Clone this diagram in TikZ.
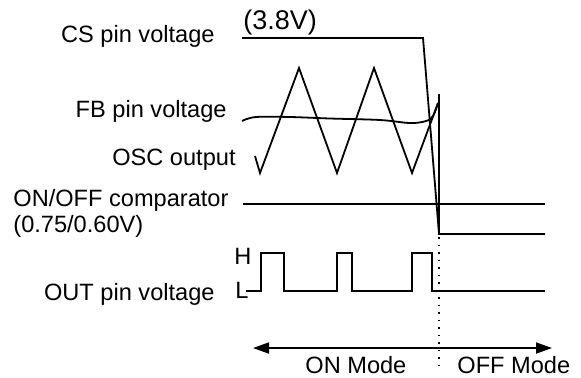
\documentclass[tikz,border=0pt]{standalone}
\usepackage{fontspec}
\setmainfont{Liberation Sans}
\usetikzlibrary{arrows.meta}

\begin{document}
\begin{tikzpicture}[x=0.5pt, y=-0.5pt,
    wave/.style={line width=0.9pt, line join=miter},
    lbl/.style={inner sep=0pt, font=\fontsize{11.8}{14}\selectfont},
    modearrow/.style={line width=0.9pt, {Triangle[length=8pt,width=5.5pt]}-{Triangle[length=8pt,width=5.5pt]}}]
        \useasboundingbox (0,0) rectangle (581,377);
        % signal names
        \node[lbl, anchor=base east] (cslbl) at (215,42) {CS pin voltage};
        \node[lbl, anchor=base east] (fblbl) at (227,117) {FB pin voltage};
        \node[lbl, anchor=base east] (osclbl) at (236,165) {OSC output};
        \node[lbl, anchor=base west] (cmplbl) at (13,206) {ON/OFF comparator};
        \node[lbl, anchor=base west] (thrlbl) at (13,232) {(0.75/0.60V)};
        \node[lbl, anchor=base east] (outlbl) at (215,300) {OUT pin voltage};
        \node[lbl, anchor=base west, font=\fontsize{13.5}{16}\selectfont] (cslvl) at (243,29) {(3.8V)};
        \node[lbl, anchor=base west] (hlvl) at (234,264) {H};
        \node[lbl, anchor=base west] (llvl) at (235,298) {L};
        % waveforms
        \draw[wave] (242,38) -- (423,38) -- (439,234) -- (545,234);
        \draw[wave] (243,204) -- (545,204);
        \draw[wave] plot[smooth, tension=0.6] coordinates {(242,121) (256,117) (290,117) (330,118.5) (380,120) (410,123) (426,121) (433,116) (438,103)};
        \draw[wave] (255,156) -- (260,173) -- (299,68) -- (337,173) -- (374,68) -- (412,173) -- (438,103);
        \draw[wave] (439,94) -- (439,234);
        \draw[wave] (246,291) -- (261,291) -- (261,253) -- (284,253) -- (284,291)
            -- (337,291) -- (337,253) -- (352,253) -- (352,291)
            -- (412,291) -- (412,253) -- (432,253) -- (432,291) -- (545,291);
        % mode boundary
        \draw[line width=0.9pt, dash pattern=on 0.9pt off 2.85pt] (439,237) -- (439,370);
        \coordinate (onend) at (253,348);
        \coordinate (offend) at (552,348);
        \draw[modearrow] (onend) -- (offend);
        \node[lbl, anchor=base west] (onlbl) at (305,373) {ON Mode};
        \node[lbl, anchor=base west] (offlbl) at (457,373) {OFF Mode};
      \end{tikzpicture}
\end{document}
